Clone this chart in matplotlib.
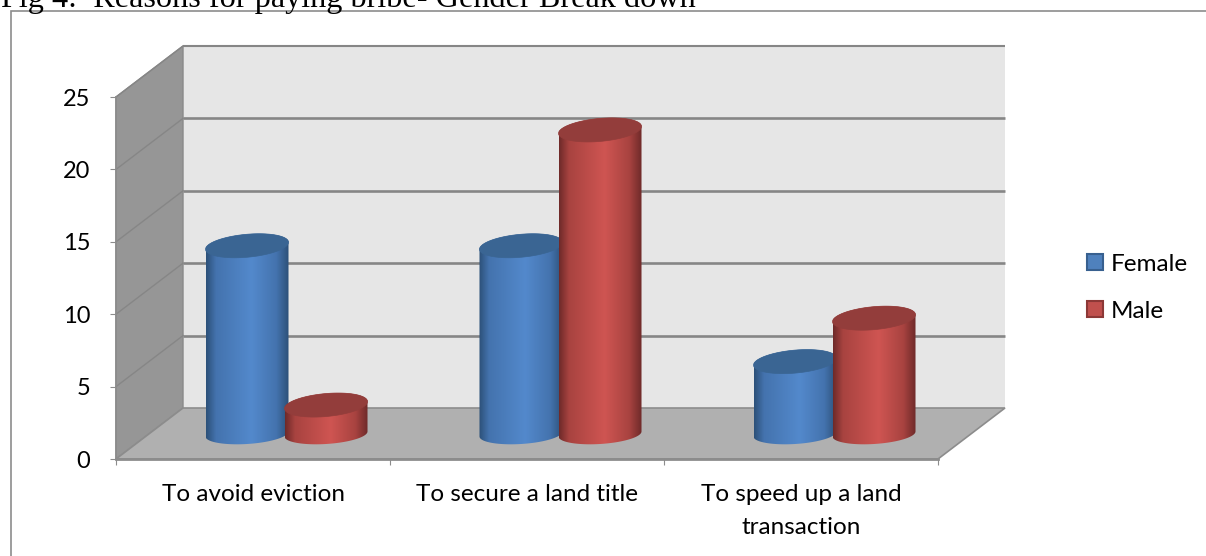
import numpy as np
import matplotlib
matplotlib.use("Agg")
import matplotlib.pyplot as plt
from matplotlib.patches import Polygon, Rectangle, Patch
from matplotlib.colors import LinearSegmentedColormap

categories = ["To avoid eviction", "To secure a land title", "To speed up a land\ntransaction"]
female = [13, 13, 5]
male = [2, 21, 8]
yticks = [0, 5, 10, 15, 20, 25]
title = "Fig 4:  Reasons for paying bribe- Gender Break down"

W, H = 1206, 556
FONT = "Lato"
fig = plt.figure(figsize=(W / 100, H / 100), dpi=100, facecolor="white")
ax = fig.add_axes([116 / W, 1 - 459 / H, 822 / W, 362 / H])
ax.set_xlim(0, 3)
ax.set_ylim(0, 25)
ax.patch.set_alpha(0)

px = 3 / 822
py = 25 / 362
DX, DY = 67 * px, 51 * py
GRID = "#868686"

# walls and floor
ax.add_patch(Polygon([(DX, DY), (3 + DX, DY), (3 + DX, 25 + DY), (DX, 25 + DY)],
                     fc="#E6E6E6", ec="none", clip_on=False, zorder=1))
ax.add_patch(Polygon([(0, 0), (DX, DY), (DX, 25 + DY), (0, 25)],
                     fc="#969696", ec="#8A8A8A", lw=1, clip_on=False, zorder=1))
ax.add_patch(Polygon([(0, 0), (3, 0), (3 + DX, DY), (DX, DY)],
                     fc="#B0B0B0", ec="#8C8C8C", lw=1.2, clip_on=False, zorder=1.5))
for v in yticks[1:]:
    ax.plot([DX, 3 + DX], [v + DY, v + DY], color=GRID, lw=1.9 if v < 25 else 1.5,
            clip_on=False, zorder=1.2, solid_capstyle="butt")
    ax.plot([0, DX], [v, v + DY], color="#868686", lw=1, clip_on=False, zorder=1.2)


def ramp(dark, mid, light):
    return LinearSegmentedColormap.from_list(
        "c", [(0, dark), (0.12, mid), (0.55, light), (0.85, mid), (1, dark)])


def cylinder(xc, value, cmap, top_color, z):
    a = 41.5 * px
    cx = xc + 33.5 * px
    base = 25 * py
    bt, st = 11.5 * py, 3.5 * py  # top ellipse: half height, tilt
    bb, sb = 10 * py, 2.5 * py    # base ellipse
    t = np.linspace(0, 2 * np.pi, 121)
    lo = np.linspace(np.pi, 2 * np.pi, 60)
    hi = np.linspace(0, np.pi, 60)
    body = np.r_[
        np.c_[cx + a * np.cos(lo), base + bb * np.sin(lo) + sb * np.cos(lo)],
        np.c_[cx + a * np.cos(hi), base + value + bt * np.sin(hi) + st * np.cos(hi)],
    ]
    poly = Polygon(body, closed=True, fc="none", ec="none", clip_on=False, zorder=z)
    ax.add_patch(poly)
    im = ax.imshow(np.linspace(0, 1, 256).reshape(1, -1), cmap=cmap, aspect="auto",
                   extent=[cx - a, cx + a, base - 2, base + value + 2],
                   zorder=z, interpolation="bilinear")
    im.set_clip_path(poly)
    ax.add_patch(Polygon(np.c_[cx + a * np.cos(t), base + value + bt * np.sin(t) + st * np.cos(t)],
                         closed=True, fc=top_color, ec=top_color, lw=0.5,
                         clip_on=False, zorder=z + 0.1))


blue = ramp("#2C5078", "#4473AE", "#5389CC")
red = ramp("#6E2A29", "#A84340", "#CF5552")
off = 39.5 * px
for i in range(len(categories)):
    cylinder(i + 0.5 - off, female[i], blue, "#3A6593", 3 + i)
    cylinder(i + 0.5 + off, male[i], red, "#933D3B", 3.5 + i)

ax.set_xlim(0, 3)
ax.set_ylim(0, 25)

# axes
for side in ("top", "right"):
    ax.spines[side].set_visible(False)
ax.spines["left"].set_color("#8C8C8C")
ax.spines["left"].set_linewidth(1.2)
ax.spines["bottom"].set_color("#8C8C8C")
ax.spines["bottom"].set_linewidth(2)
ax.spines["left"].set_zorder(2)
ax.spines["bottom"].set_zorder(2)
ax.set_yticks(yticks)
ax.set_yticklabels([str(v) for v in yticks], fontsize=17, family=FONT, color="black")
ax.tick_params(axis="y", length=4.5, color="#8C8C8C", pad=14)
ax.set_xticks(range(len(categories) + 1))
ax.set_xticklabels([""] * (len(categories) + 1))
ax.tick_params(axis="x", length=4.5, color="#8C8C8C")
ax.set_xticks(np.arange(len(categories)) + 0.5, minor=True)
ax.set_xticklabels(categories, minor=True, fontsize=17.5, family=FONT, color="black",
                   linespacing=1.7)
ax.tick_params(axis="x", which="minor", length=0, pad=18)

# chart frame
fig.add_artist(Rectangle((11 / W, -0.05), 1.05, 1 - 11 / H + 0.05, transform=fig.transFigure,
                         fc="none", ec="#8C8C8C", lw=1.2))

# legend
handles = [Patch(fc="#4F81BD", ec="#38608F", lw=1.5, label="Female"),
           Patch(fc="#C0504D", ec="#8C3836", lw=1.5, label="Male")]
fig.legend(handles=handles, loc="upper left", bbox_to_anchor=(1065 / W, 1 - 232 / H),
           frameon=False, prop={"family": FONT, "size": 17.5}, handlelength=0.65,
           handleheight=0.65, handletextpad=0.35, labelspacing=1.07, borderpad=0.4)

fig.text(1 / W, 1 - 7 / H, title, family="Liberation Serif", fontsize=23.2,
         color="black", va="baseline", ha="left")

fig.savefig("out.png", dpi=100, facecolor="white")
